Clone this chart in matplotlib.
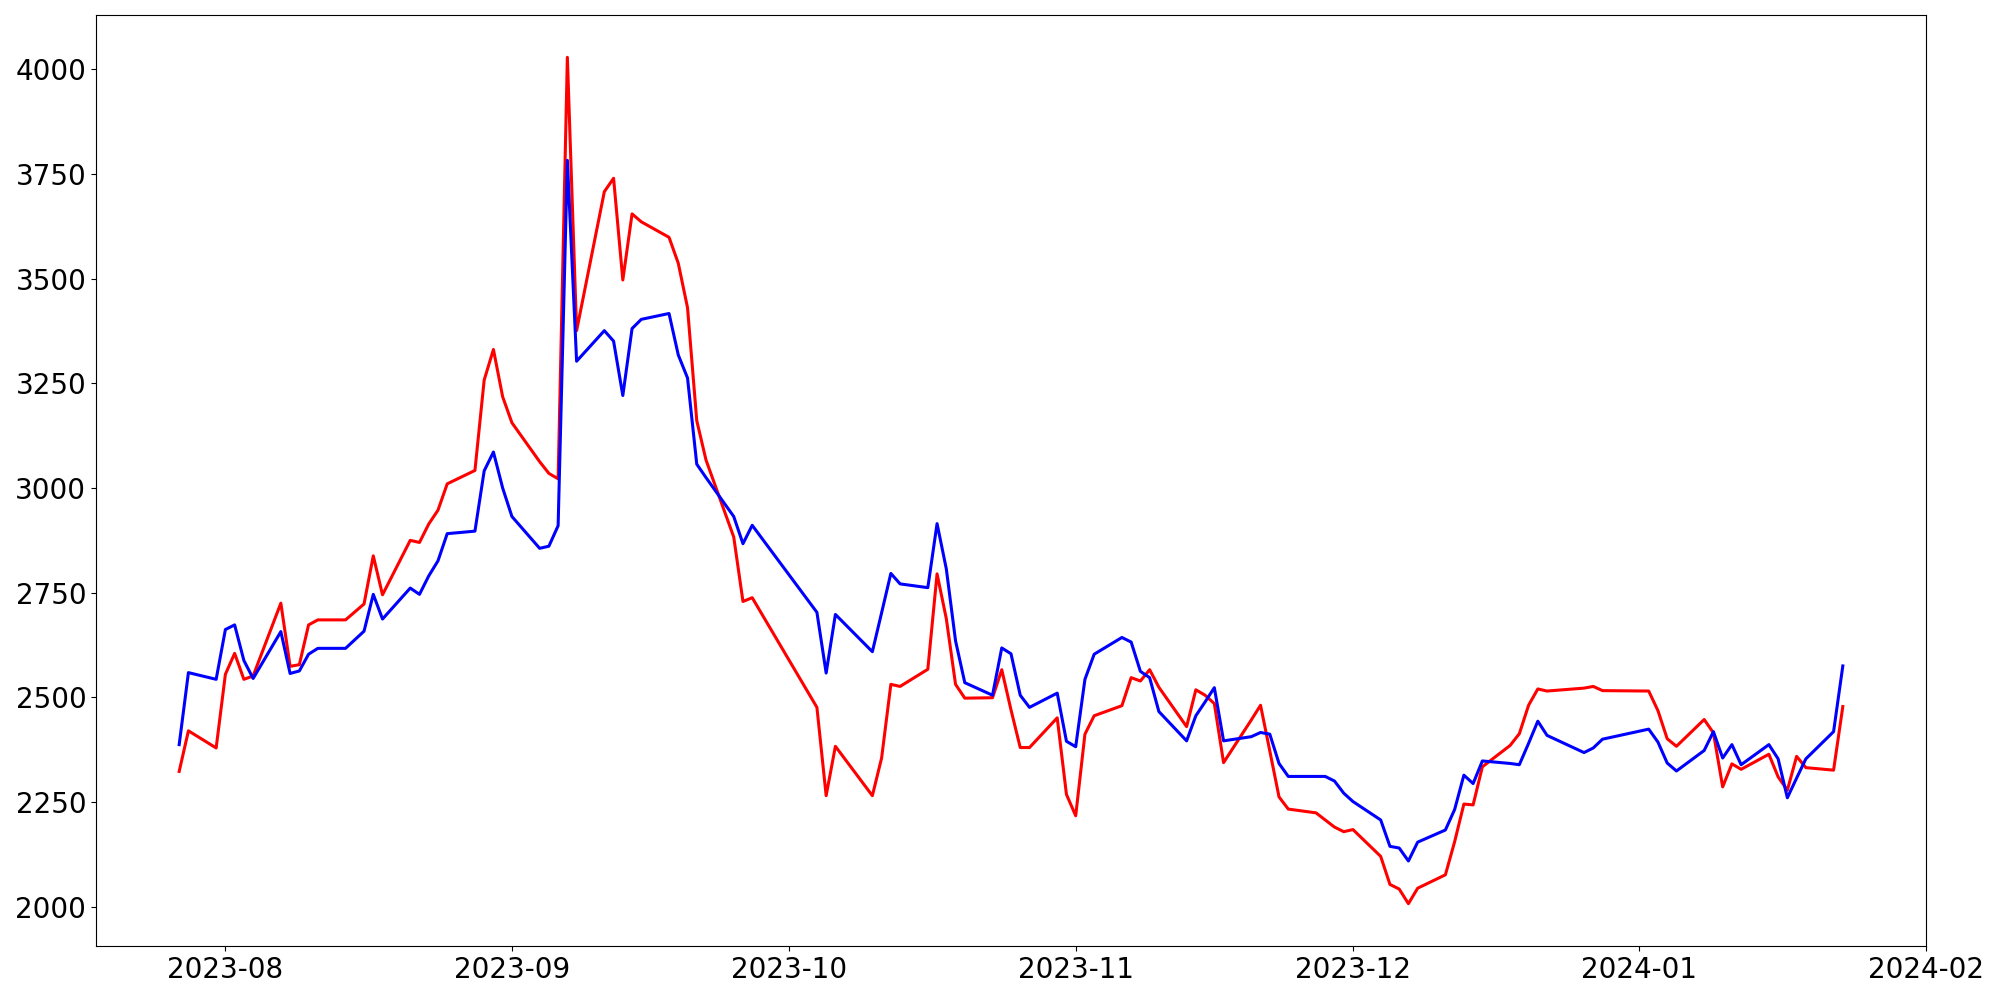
import pandas as pd
import matplotlib
matplotlib.use("Agg")
import matplotlib.pyplot as plt

# trading days (KRX calendar)
dates = (
    ["2023-07-27", "2023-07-28", "2023-07-31"]
    + ["2023-08-%02d" % d for d in [1, 2, 3, 4, 7, 8, 9, 10, 11, 14, 16, 17, 18, 21, 22, 23, 24, 25, 28, 29, 30, 31]]
    + ["2023-09-%02d" % d for d in [1, 4, 5, 6, 7, 8, 11, 12, 13, 14, 15, 18, 19, 20, 21, 22, 25, 26, 27]]
    + ["2023-10-%02d" % d for d in [4, 5, 6, 10, 11, 12, 13, 16, 17, 18, 19, 20, 23, 24, 25, 26, 27, 30, 31]]
    + ["2023-11-%02d" % d for d in [1, 2, 3, 6, 7, 8, 9, 10, 13, 14, 15, 16, 17, 20, 21, 22, 23, 24, 27, 28, 29, 30]]
    + ["2023-12-%02d" % d for d in [1, 4, 5, 6, 7, 8, 11, 12, 13, 14, 15, 18, 19, 20, 21, 22, 26, 27, 28]]
    + ["2024-01-%02d" % d for d in [2, 3, 4, 5, 8, 9, 10, 11, 12, 15, 16, 17, 18, 19, 22, 23]]
)

red = [
    2323, 2420, 2379,
    2555, 2605, 2543, 2551, 2725, 2574, 2578, 2673, 2685, 2685, 2723, 2838, 2745, 2875, 2870, 2914, 2947, 3010, 3042, 3258, 3331, 3218,
    3156, 3063, 3035, 3022, 4029, 3376, 3708, 3740, 3497, 3655, 3636, 3599, 3537, 3431, 3161, 3067, 2883, 2729, 2738,
    2476, 2265, 2383, 2265, 2355, 2531, 2526, 2567, 2795, 2688, 2531, 2498, 2499, 2566, 2470, 2380, 2380, 2451, 2268,
    2217, 2412, 2456, 2480, 2547, 2539, 2566, 2524, 2430, 2518, 2505, 2485, 2344, 2446, 2481, 2372, 2262, 2233, 2224, 2207, 2190, 2179,
    2184, 2120, 2053, 2042, 2007, 2044, 2076, 2155, 2245, 2243, 2334, 2385, 2413, 2481, 2520, 2515, 2522, 2526, 2516,
    2515, 2468, 2401, 2383, 2447, 2415, 2286, 2341, 2328, 2364, 2310, 2278, 2359, 2332, 2326, 2478,
]

blue = [
    2387, 2559, 2543,
    2662, 2673, 2588, 2545, 2657, 2557, 2563, 2603, 2617, 2617, 2658, 2746, 2687, 2761, 2746, 2790, 2826, 2891, 2897, 3041, 3086, 3000,
    2932, 2856, 2861, 2910, 3783, 3303, 3376, 3351, 3221, 3381, 3403, 3417, 3318, 3263, 3057, 3025, 2932, 2867, 2911,
    2703, 2558, 2698, 2609, 2702, 2796, 2771, 2762, 2915, 2807, 2635, 2535, 2505, 2618, 2604, 2505, 2476, 2510, 2395,
    2382, 2543, 2603, 2643, 2632, 2562, 2547, 2466, 2396, 2456, 2489, 2523, 2396, 2406, 2416, 2412, 2342, 2311, 2311, 2311, 2300, 2271,
    2251, 2207, 2144, 2140, 2109, 2154, 2183, 2232, 2314, 2294, 2348, 2342, 2339, 2390, 2443, 2409, 2368, 2379, 2400,
    2424, 2393, 2343, 2324, 2373, 2418, 2355, 2387, 2339, 2387, 2353, 2260, 2307, 2353, 2418, 2575,
]

x = pd.to_datetime(dates)

fig, ax = plt.subplots(figsize=(20, 10), dpi=100)
fig.subplots_adjust(left=0.048, right=0.963, top=0.985, bottom=0.054)

ax.plot(x, red, color="red", linewidth=2.2)
ax.plot(x, blue, color="blue", linewidth=2.2)

ax.tick_params(labelsize=20)

fig.savefig("out.png")
